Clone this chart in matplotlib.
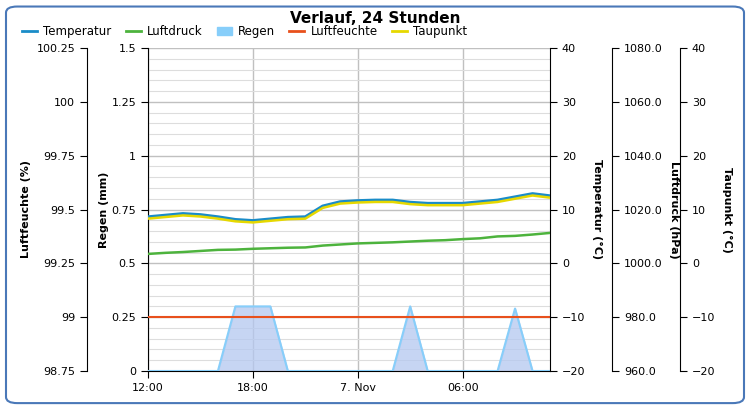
import numpy as np
import matplotlib.pyplot as plt
from matplotlib.patches import FancyBboxPatch
from matplotlib.lines import Line2D
from matplotlib.patches import Patch

# hourly data, 12:00 .. 11:00 next day
hours = list(range(24))
temperatur = [8.6, 8.9, 9.2, 9.0, 8.6, 8.1, 7.9, 8.2, 8.5, 8.6, 10.6, 11.4, 11.6, 11.7, 11.7, 11.3,
              11.1, 11.1, 11.1, 11.4, 11.7, 12.3, 12.9, 12.5]
taupunkt = [8.3, 8.6, 8.9, 8.7, 8.3, 7.8, 7.6, 7.9, 8.2, 8.3, 10.3, 11.1, 11.3, 11.4, 11.4, 11.0,
            10.8, 10.8, 10.8, 11.1, 11.4, 12.0, 12.6, 12.2]
luftdruck = [1003.5, 1003.9, 1004.2, 1004.6, 1005.0, 1005.1, 1005.4, 1005.6, 1005.8, 1005.9, 1006.6,
             1007.0, 1007.4, 1007.6, 1007.8, 1008.1, 1008.4, 1008.6, 1009.0, 1009.3, 1010.0, 1010.2,
             1010.7, 1011.3]
regen = [0, 0, 0, 0, 0, 0.3, 0.3, 0.3, 0, 0, 0, 0, 0, 0, 0, 0.3, 0, 0, 0, 0, 0, 0.29, 0, 0]
luftfeuchte = [99.0] * 24
xtick_pos = [0, 6, 12, 18]
xtick_labels = ["12:00", "18:00", "7. Nov", "06:00"]

C_T, C_P, C_R, C_H, C_D = "#1a8cc8", "#4db33d", "#87cefa", "#e8501c", "#e6d800"
PT = 0.72  # points per pixel at dpi 100

fig = plt.figure(figsize=(7.5, 4.08), dpi=100)
frame = FancyBboxPatch((0.008, 0.012), 0.984, 0.972, boxstyle="round,pad=0,rounding_size=0.015",
                       transform=fig.transFigure, facecolor="white", edgecolor="#4a78b8", lw=1.5,
                       zorder=-10)
fig.patches.append(frame)
ax = fig.add_axes([148 / 750, 37 / 408, 402 / 750, 323 / 408])
ax.set_facecolor("white")

ax.fill_between(hours, regen, color="#b4c8f0", alpha=0.75, zorder=2)
ax.plot(hours, regen, color=C_R, lw=1.5, zorder=3)
ax.set_xlim(0, 23)
ax.set_ylim(0, 1.5)
ax.set_yticks(np.arange(0, 1.51, 0.25))
ax.set_yticklabels(["0", "0.25", "0.5", "0.75", "1", "1.25", "1.5"])
ax.set_yticks(np.arange(0, 1.5, 0.05), minor=True)
ax.tick_params(which="minor", length=0)
ax.grid(which="minor", axis="y", color="#dddddd", lw=0.8)
ax.grid(which="major", axis="y", color="#c0c0c0", lw=1)
ax.set_xticks(xtick_pos)
ax.set_xticklabels(xtick_labels)
ax.grid(axis="x", color="#c0c0c0", lw=1)
ax.set_axisbelow(True)
ax.set_ylabel("Regen (mm)", fontweight="bold", fontsize=8, labelpad=2)

def style(a):
    a.tick_params(which="major", labelsize=8, length=5)
    for s in a.spines.values():
        s.set_color("black")

style(ax)
ax.spines["top"].set_visible(False)
ax.spines["right"].set_visible(False)

# humidity axis (left, outward)
axh = ax.twinx()
axh.spines["left"].set_position(("outward", 61 * PT))
axh.spines["left"].set_visible(True)
axh.yaxis.set_ticks_position("left")
axh.yaxis.set_label_position("left")
for s in ["top", "right", "bottom"]:
    axh.spines[s].set_visible(False)
axh.plot(hours, luftfeuchte, color=C_H, lw=1.5, zorder=4)
axh.set_ylim(98.75, 100.25)
axh.set_yticks(np.arange(98.75, 100.26, 0.25))
axh.set_yticklabels(["98.75", "99", "99.25", "99.5", "99.75", "100", "100.25"])
axh.set_ylabel("Luftfeuchte (%)", fontweight="bold", fontsize=8)
style(axh)

# temperature axis
axt = ax.twinx()
for s in ["top", "left", "bottom"]:
    axt.spines[s].set_visible(False)
axt.plot(hours, temperatur, color=C_T, lw=2.5, zorder=5)
axt.set_ylim(-20, 40)
axt.set_yticks(range(-20, 41, 10))
axt.set_ylabel("Temperatur (°C)", fontweight="bold", fontsize=8, rotation=270, labelpad=12)
style(axt)

# pressure axis
axp = ax.twinx()
axp.spines["right"].set_position(("outward", 62 * PT))
for s in ["top", "left", "bottom"]:
    axp.spines[s].set_visible(False)
axp.plot(hours, luftdruck, color=C_P, lw=1.8, zorder=5)
axp.set_ylim(960, 1080)
axp.set_yticks(range(960, 1081, 20))
axp.set_yticklabels([f"{v:.1f}" for v in range(960, 1081, 20)])
axp.set_ylabel("Luftdruck (hPa)", fontweight="bold", fontsize=8, rotation=270, labelpad=12)
style(axp)

# dew point axis
axd = ax.twinx()
axd.spines["right"].set_position(("outward", 130 * PT))
for s in ["top", "left", "bottom"]:
    axd.spines[s].set_visible(False)
axd.plot(hours, taupunkt, color=C_D, lw=1.8, zorder=6)
axd.set_ylim(-20, 40)
axd.set_yticks(range(-20, 41, 10))
axd.set_ylabel("Taupunkt (°C)", fontweight="bold", fontsize=8, rotation=270, labelpad=12)
style(axd)

fig.text(0.5, 0.955, "Verlauf, 24 Stunden", ha="center", va="center", fontsize=11, fontweight="bold")
handles = [Line2D([], [], color=C_T, lw=2), Line2D([], [], color=C_P, lw=2),
           Patch(facecolor=C_R, edgecolor=C_R), Line2D([], [], color=C_H, lw=2),
           Line2D([], [], color=C_D, lw=2)]
fig.legend(handles, ["Temperatur", "Luftdruck", "Regen", "Luftfeuchte", "Taupunkt"],
           loc="center left", bbox_to_anchor=(0.015, 0.922), ncol=5, frameon=False, fontsize=8.5,
           handlelength=1.3, columnspacing=1.2, handletextpad=0.5)

fig.savefig("out.png", dpi=100)
